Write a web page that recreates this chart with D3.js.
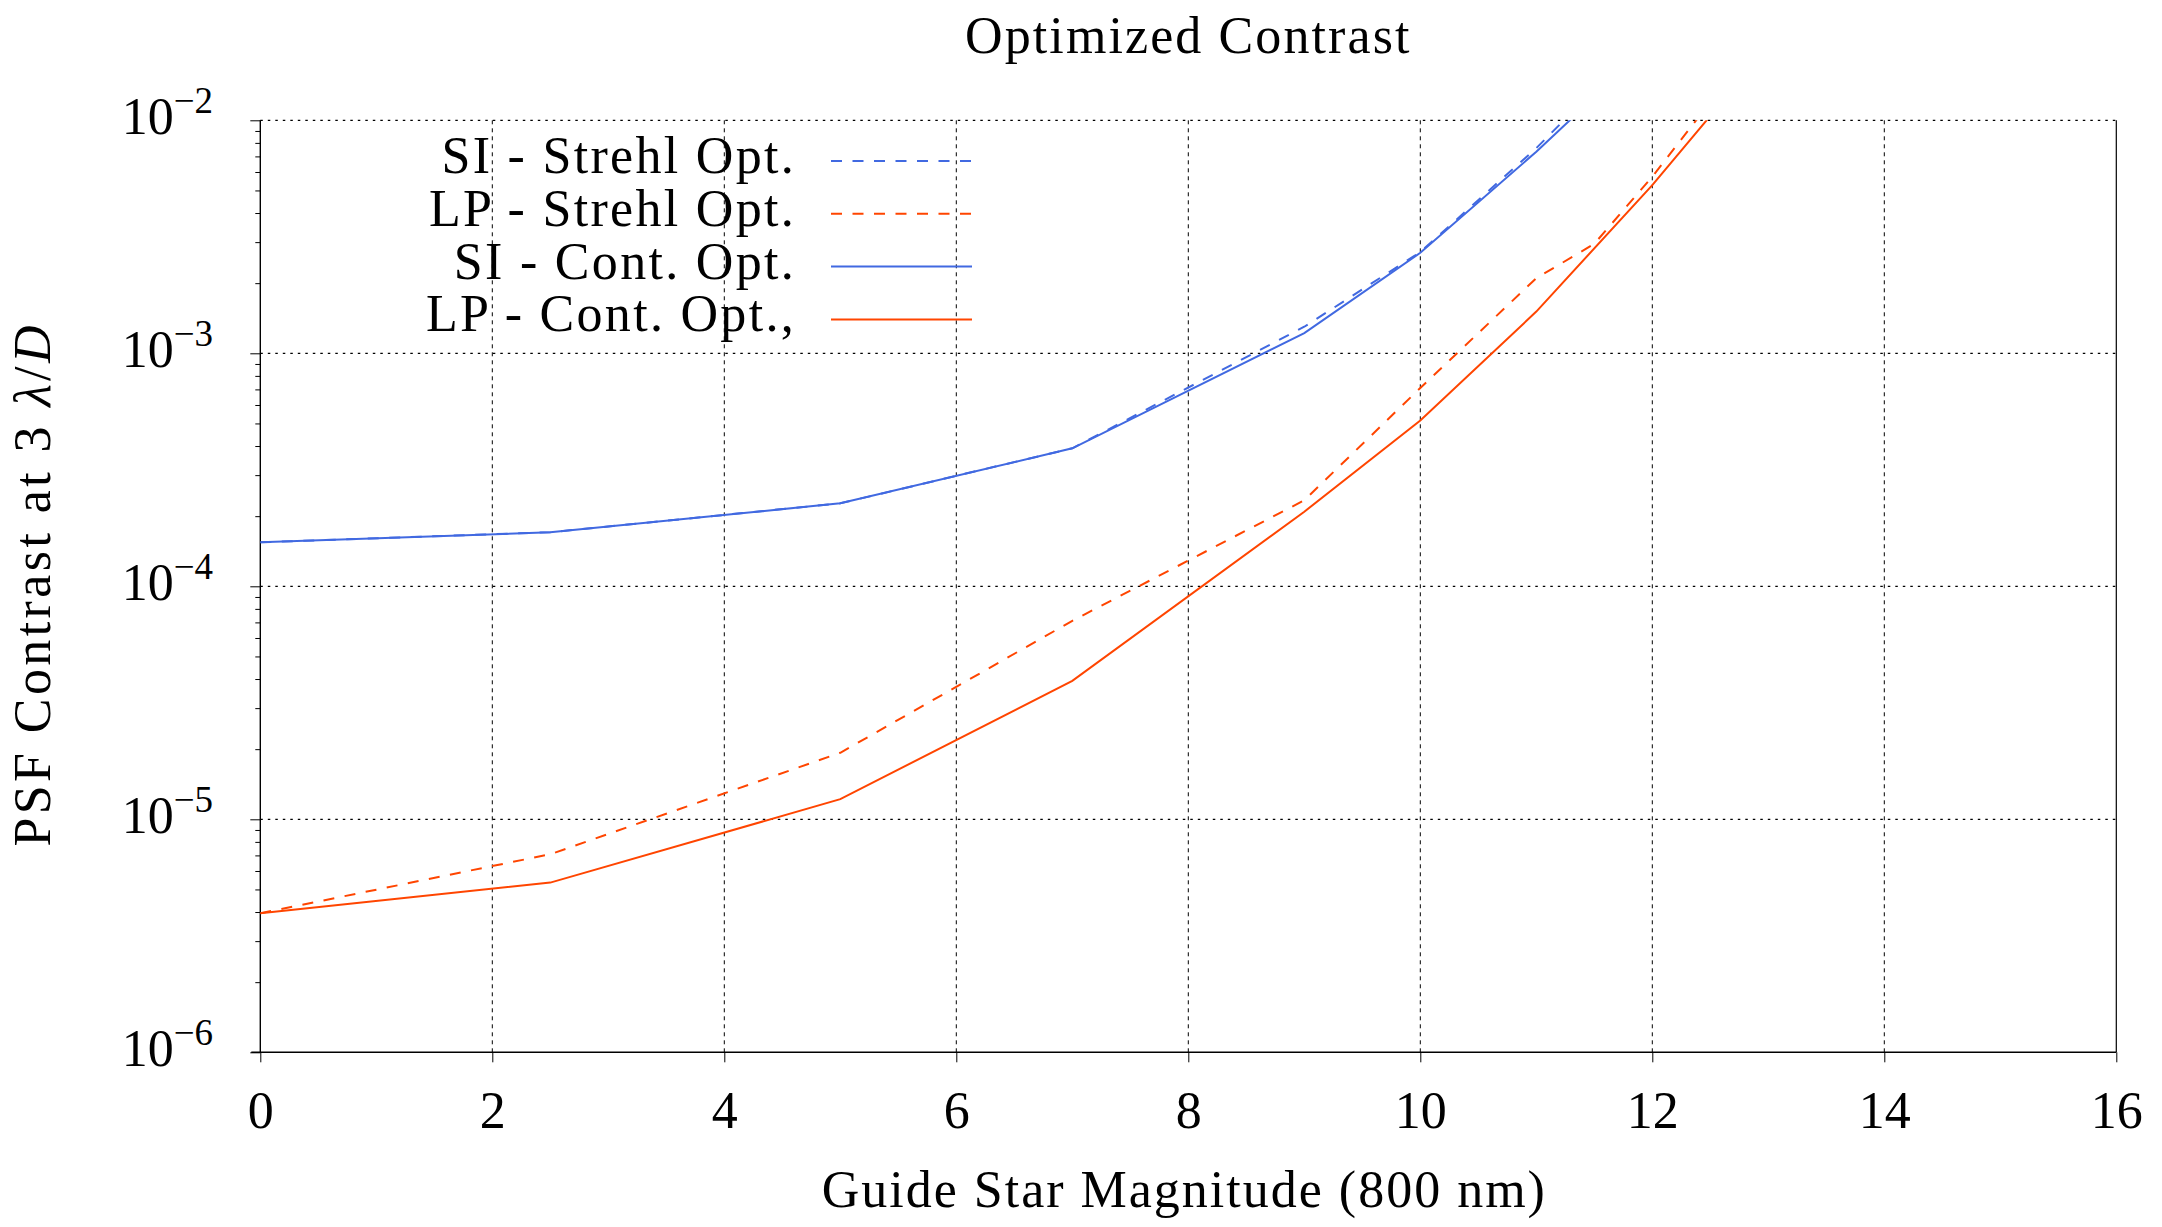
<!DOCTYPE html>
<html>
<head>
<meta charset="utf-8">
<script src="https://cdn.jsdelivr.net/npm/d3@7"></script>
<style>
  body { margin: 0; background: #fff; }
  text { font-family: "Liberation Serif", "Times New Roman", serif; fill: #000; }
</style>
</head>
<body>
<div id="chart"></div>
<script>
// series: magnitude -> contrast
var siStrehlMag = [0, 2.5, 5, 7, 9, 10, 11, 12];
var siStrehlVal = [1.545e-4, 1.706e-4, 2.27e-4, 3.91e-4, 1.30e-3, 2.72e-3, 7.6e-3, 2.4e-2];

var lpStrehlMag = [0, 2.5, 5, 7, 9, 10, 11, 11.5, 12, 13];
var lpStrehlVal = [3.95e-6, 7.08e-6, 1.93e-5, 7.11e-5, 2.34e-4, 7.1e-4, 2.1e-3, 2.95e-3, 5.73e-3, 2.5e-2];

var siContMag = [0, 2.5, 5, 7, 9, 10, 11, 12];
var siContVal = [1.545e-4, 1.706e-4, 2.27e-4, 3.91e-4, 1.22e-3, 2.70e-3, 7.33e-3, 2.15e-2];

var lpContMag = [0, 2.5, 5, 7, 9, 10, 11, 12, 13];
var lpContVal = [3.95e-6, 5.35e-6, 1.22e-5, 3.93e-5, 2.09e-4, 5.15e-4, 1.51e-3, 5.27e-3, 2.07e-2];

var seriesNames = ["SI - Strehl Opt.", "LP - Strehl Opt.", "SI - Cont. Opt.", "LP - Cont. Opt.,"];

var xTicks = [0, 2, 4, 6, 8, 10, 12, 14, 16];
var yExponents = [-6, -5, -4, -3, -2];

var blue = "#4169e1", orange = "#ff4500";

var series = [
  {name: seriesNames[0], mag: siStrehlMag, val: siStrehlVal, color: blue, dash: "11,10.5"},
  {name: seriesNames[1], mag: lpStrehlMag, val: lpStrehlVal, color: orange, dash: "11,10.5"},
  {name: seriesNames[2], mag: siContMag, val: siContVal, color: blue, dash: null},
  {name: seriesNames[3], mag: lpContMag, val: lpContVal, color: orange, dash: null}
];

var W = 2162, H = 1227;
var margin = {top: 120.3, right: 45.7, bottom: 174.7, left: 260.3},
    width = W - margin.left - margin.right,
    height = H - margin.top - margin.bottom;

var svg = d3.select("#chart").append("svg")
    .attr("width", W)
    .attr("height", H);

var g = svg.append("g")
    .attr("transform", "translate(" + margin.left + "," + margin.top + ")");

var x = d3.scaleLinear().domain([0, 16]).range([0, width]);
var y = d3.scaleLog().domain([1e-6, 1e-2]).range([height, 0]);

g.append("clipPath").attr("id", "clip")
  .append("rect").attr("width", width).attr("height", height);

// grid
g.append("g").selectAll("line")
  .data(xTicks.slice(1, -1)).enter().append("line")
  .attr("x1", function(d) { return x(d); }).attr("x2", function(d) { return x(d); })
  .attr("y1", 0).attr("y2", height)
  .attr("stroke", "#000").attr("stroke-width", 1).attr("stroke-dasharray", "4,4");

g.append("g").selectAll("line")
  .data(yExponents.slice(1)).enter().append("line")
  .attr("x1", 0).attr("x2", width)
  .attr("y1", function(d) { return y(Math.pow(10, d)); })
  .attr("y2", function(d) { return y(Math.pow(10, d)); })
  .attr("stroke", "#000").attr("stroke-width", 1.2).attr("stroke-dasharray", "2.5,5");

// frame
g.append("line").attr("x1", width).attr("x2", width).attr("y1", 0).attr("y2", height)
  .attr("stroke", "#000").attr("stroke-width", 1.2);
g.append("line").attr("x1", 0).attr("x2", 0).attr("y1", 0).attr("y2", height)
  .attr("stroke", "#000").attr("stroke-width", 1.4);
g.append("line").attr("x1", -9).attr("x2", width).attr("y1", height).attr("y2", height)
  .attr("stroke", "#000").attr("stroke-width", 1.6);

// x axis
var xAxis = g.append("g")
  .attr("transform", "translate(0," + height + ")")
  .call(d3.axisBottom(x).tickValues(xTicks).tickSize(10).tickFormat(d3.format("d")));
xAxis.select(".domain").remove();
xAxis.selectAll(".tick line").attr("stroke-width", 1);
xAxis.selectAll(".tick text")
  .attr("font-family", "Liberation Serif").attr("font-size", 52).attr("dy", null)
  .attr("y", 76);

// y axis: minor ticks
var minor = [];
yExponents.slice(0, -1).forEach(function(e) {
  for (var k = 2; k <= 9; k++) minor.push(k * Math.pow(10, e));
});
var yMinor = g.append("g")
  .call(d3.axisLeft(y).tickValues(minor).tickSize(5).tickFormat(""));
yMinor.select(".domain").remove();
yMinor.selectAll(".tick line").attr("stroke-width", 1);

var yAxis = g.append("g")
  .call(d3.axisLeft(y).tickValues(yExponents.map(function(e) { return Math.pow(10, e); }))
    .tickSize(10).tickFormat(""));
yAxis.select(".domain").remove();
yAxis.selectAll(".tick line").attr("stroke-width", 1);
yAxis.selectAll(".tick").each(function(d, i) {
  var t = d3.select(this).append("text")
    .attr("x", 213 - margin.left).attr("y", 13)
    .attr("text-anchor", "end")
    .attr("font-size", 52);
  t.append("tspan").text("10");
  t.append("tspan").attr("dy", -21).attr("font-size", 37).text("\u2212" + Math.abs(yExponents[i]));
});

// lines
var line = d3.line()
  .x(function(d) { return x(d[0]); })
  .y(function(d) { return y(d[1]); });

g.append("g").attr("clip-path", "url(#clip)")
  .selectAll("path").data(series).enter().append("path")
  .attr("d", function(s) { return line(d3.zip(s.mag, s.val)); })
  .attr("fill", "none")
  .attr("stroke", function(s) { return s.color; })
  .attr("stroke-width", 2)
  .attr("stroke-dasharray", function(s) { return s.dash; });

// legend
var legend = svg.append("g").selectAll("g").data(series).enter().append("g")
  .attr("transform", function(s, i) { return "translate(0," + (161 + i * 52.8) + ")"; });
legend.append("text")
  .attr("x", 796).attr("y", 12).attr("text-anchor", "end")
  .attr("font-size", 52).attr("letter-spacing", 2.3)
  .text(function(s) { return s.name; });
legend.append("line")
  .attr("x1", 831).attr("x2", 972)
  .attr("stroke", function(s) { return s.color; })
  .attr("stroke-width", 2)
  .attr("stroke-dasharray", function(s) { return s.dash; });

// titles
svg.append("text")
  .attr("x", margin.left + width / 2).attr("y", 53)
  .attr("text-anchor", "middle").attr("font-size", 52).attr("letter-spacing", 2.1)
  .text("Optimized Contrast");

svg.append("text")
  .attr("x", margin.left + width / 2 - 4).attr("y", 1207)
  .attr("text-anchor", "middle").attr("font-size", 52).attr("letter-spacing", 2.0)
  .text("Guide Star Magnitude (800 nm)");

var yl = svg.append("text")
  .attr("transform", "translate(50," + (margin.top + height / 2 - 2) + ") rotate(-90)")
  .attr("text-anchor", "middle").attr("font-size", 52).attr("letter-spacing", 3.4);
yl.append("tspan").text("PSF Contrast at 3 ");
yl.append("tspan").attr("font-style", "italic").text("\u03bb");
yl.append("tspan").text("/");
yl.append("tspan").attr("font-style", "italic").text("D");
</script>
</body>
</html>
